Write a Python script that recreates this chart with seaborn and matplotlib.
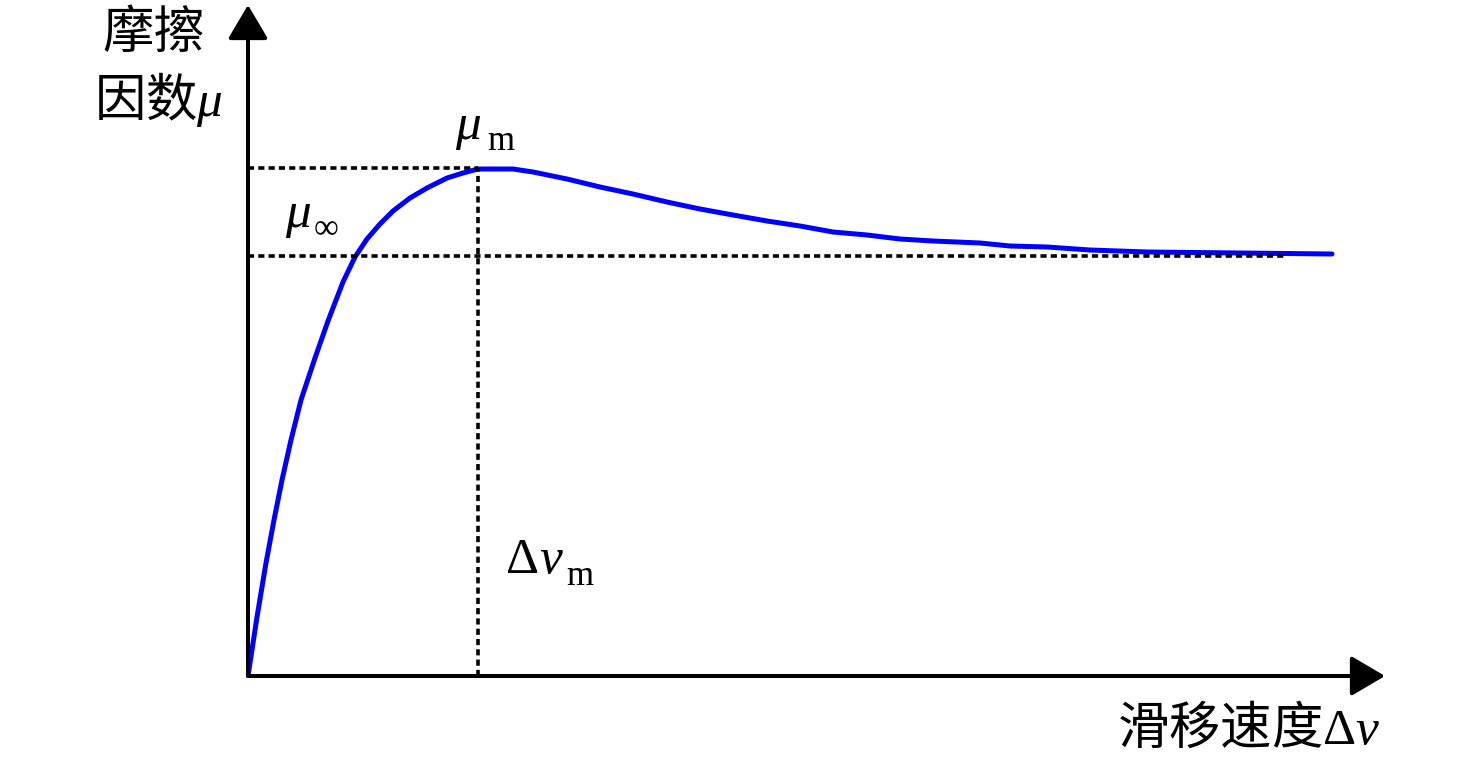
import matplotlib
matplotlib.use("Agg")
import matplotlib.pyplot as plt
import seaborn as sns
import pandas as pd

# ---- data ----
slip_velocity = [0.00, 0.09, 0.18, 0.26, 0.34, 0.43, 0.53, 0.67, 0.80, 0.95,
                 1.07, 1.19, 1.32, 1.45, 1.62, 1.79, 1.99, 2.15, 2.30, 2.65,
                 2.85, 3.19, 3.52, 3.85, 4.19, 4.52, 4.85, 5.19, 5.52, 5.85,
                 6.19, 6.52, 6.85, 7.32, 7.62, 7.99, 8.42, 8.99, 9.92, 10.84]
friction = [0.00, 0.59, 1.13, 1.56, 1.96, 2.36, 2.76, 3.18, 3.55, 3.94,
            4.19, 4.37, 4.52, 4.65, 4.78, 4.88, 4.98, 5.03, 5.07, 5.07,
            5.04, 4.97, 4.89, 4.82, 4.74, 4.67, 4.61, 4.55, 4.50, 4.44,
            4.41, 4.37, 4.35, 4.33, 4.30, 4.29, 4.26, 4.24, 4.23, 4.22]
mu_m = 5.08
mu_inf = 4.20
dv_m = 2.30
mu_inf_line_end = 10.39
x_axis_end = 11.37
y_axis_end = 6.71

y_label_lines = ["摩擦", "因数$\\mu$"]
x_label = "滑移速度$\\Delta v$"

df = pd.DataFrame({"dv": slip_velocity, "mu": friction})

sns.set_theme(style="white")
plt.rcParams["font.family"] = ["Noto Sans CJK SC", "DejaVu Sans"]
plt.rcParams["mathtext.fontset"] = "custom"
plt.rcParams["mathtext.rm"] = "Liberation Serif"
plt.rcParams["mathtext.it"] = "Liberation Serif:italic"
plt.rcParams["mathtext.cal"] = "Liberation Serif"
plt.rcParams["mathtext.sf"] = "Liberation Serif"
plt.rcParams["mathtext.bf"] = "Liberation Serif:bold"

W, H = 1476, 761
fig = plt.figure(figsize=(W / 100, H / 100), dpi=100)
fig.patch.set_facecolor("white")
ox, oy = 248, 676
ax = fig.add_axes([ox / W, (H - oy) / H, (1385 - ox) / W, (oy - 5) / H])
ax.set_xlim(0, x_axis_end)
ax.set_ylim(0, y_axis_end)
ax.axis("off")

# curve
sns.lineplot(data=df, x="dv", y="mu", sort=False, color="#0000FF", lw=3.6,
             ax=ax, zorder=3, legend=False)

# dotted reference lines
dot = dict(color="black", lw=2.6, ls=(0, (1.7, 1.15)), zorder=4, clip_on=False)
ax.plot([0, dv_m], [mu_m, mu_m], **dot)
ax.plot([0, mu_inf_line_end], [mu_inf, mu_inf], **dot)
ax.plot([dv_m, dv_m], [0, mu_m], **dot)

# axes with arrows
arr = dict(arrowstyle="-|>,head_length=1.05,head_width=0.62", lw=2.9,
           color="black", shrinkA=0, shrinkB=0, mutation_scale=20)
ax.annotate("", xy=(x_axis_end, 0), xytext=(0, 0), arrowprops=arr,
            annotation_clip=False, zorder=5)
ax.annotate("", xy=(0, y_axis_end), xytext=(0, 0), arrowprops=arr,
            annotation_clip=False, zorder=5)

fs = 37
sub_fs = 25
SERIF = "Liberation Serif"

def ptext(x, y, s, **kw):
    fig.text(x / W, 1 - y / H, s, fontsize=kw.pop("fontsize", fs),
             color="black", **kw)

# axis titles
ptext(154, 48, y_label_lines[0], ha="center", va="baseline")
ptext(158, 116, y_label_lines[1], ha="center", va="baseline")
ptext(1249, 744, x_label, ha="center", va="baseline")

# mu_m
ptext(455, 139, "\u03bc", family=SERIF, style="italic", ha="left", va="baseline")
ptext(487, 150, "m", family=SERIF, fontsize=sub_fs, ha="left", va="baseline")
# mu_inf
ptext(285, 227, "\u03bc", family=SERIF, style="italic", ha="left", va="baseline")
ptext(314, 238, "\u221e", family=SERIF, fontsize=sub_fs, ha="left", va="baseline")
# delta v_m
ptext(506, 573, "\u0394", family=SERIF, ha="left", va="baseline")
ptext(539, 573, "v", family=SERIF, style="italic", ha="left", va="baseline")
ptext(566, 585, "m", family=SERIF, fontsize=sub_fs, ha="left", va="baseline")

fig.savefig("out.png", dpi=100, facecolor="white")
